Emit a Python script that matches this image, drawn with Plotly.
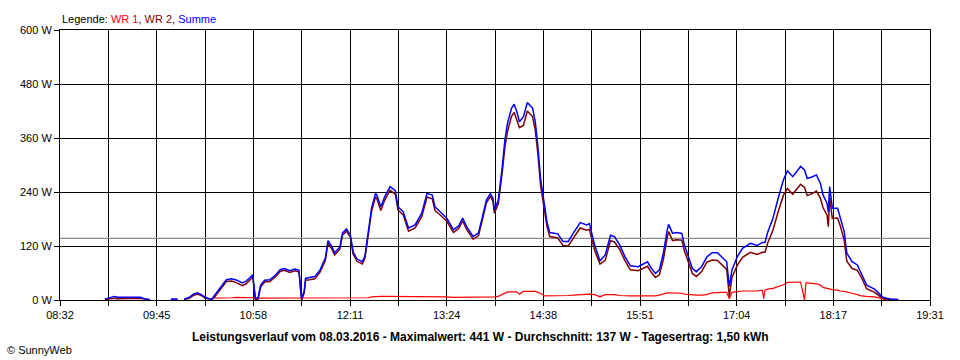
import plotly.graph_objects as go

# ---- data ----
zeit = ["09:06","09:10","09:13","09:16","09:19","09:24","09:28","09:33","09:36","09:40","09:42",
        "09:56","10:01","10:03",
        "10:06","10:10","10:13","10:16","10:19","10:22","10:25","10:27","10:29","10:32","10:35","10:38",
        "10:42","10:46","10:50","10:53","10:56","10:58","11:00","11:02","11:04","11:07","11:11","11:15",
        "11:19","11:22","11:26","11:30","11:33","11:35","11:37","11:38","11:41","11:45","11:49","11:53",
        "11:55","11:58","12:00","12:04","12:06","12:09","12:12","12:14","12:17","12:21","12:23","12:25",
        "12:28","12:31","12:32","12:35","12:38","12:42","12:46","12:48","12:52","12:56","13:01","13:06",
        "13:10","13:14","13:16","13:20","13:25","13:30","13:34","13:37","13:40","13:45","13:49","13:52",
        "13:55","13:58","14:00","14:01","14:04","14:07","14:09","14:11","14:14","14:16","14:18","14:20",
        "14:23","14:26","14:30","14:32","14:34","14:36","14:39","14:41","14:43","14:49","14:53","14:57",
        "15:01","15:06","15:11","15:13","15:17","15:21","15:25","15:29","15:32","15:36","15:40","15:44",
        "15:50","15:54","15:57","16:00","16:03","16:06","16:09","16:12","16:13","16:16","16:19","16:23",
        "16:25","16:28","16:31","16:34","16:38","16:42","16:46","16:50","16:53","16:57","16:59","17:01",
        "17:05","17:09","17:15","17:20","17:24","17:25","17:26","17:28","17:32","17:36","17:40","17:43",
        "17:47","17:50","17:53","17:56","17:57","17:58","18:02","18:05","18:08","18:10","18:13","18:14",
        "18:15","18:17","18:21","18:23","18:26","18:28","18:32","18:36","18:39","18:43","18:49","18:55",
        "18:58","19:01","19:07"]

summe = [2,5,8,6,6,7,6,6,3,1,None,
         2,2,None,
         2,6,13,16,12,6,3,2,10,22,35,45,
         47,44,38,42,50,56,4,5,33,44,45,55,
         68,70,65,69,66,4,20,48,50,52,67,93,
         132,118,105,118,149,158,144,107,91,85,98,141,
         204,237,233,207,230,252,243,207,196,160,167,193,
         237,233,207,196,182,156,165,182,163,141,149,185,
         222,236,226,200,222,296,356,393,426,435,419,396,
         407,439,426,396,341,270,207,171,150,147,130,130,
         149,172,167,170,122,87,100,144,141,122,96,76,
         74,80,85,70,59,67,104,156,168,148,150,148,
         122,96,70,63,74,96,105,105,96,85,30,67,
         96,115,126,121,128,128,128,150,181,226,267,287,
         274,285,297,289,280,270,274,278,259,233,215,195,
         252,204,204,185,152,104,85,78,59,33,24,7,
         4,2,1]

wr2 = [1,3,4,3,3,4,4,4,2,0,None,
       1,1,None,
       1,4,10,13,10,4,2,1,6,18,31,41,
       42,38,32,36,45,51,0,1,29,40,41,51,
       64,66,61,65,62,0,16,44,45,47,62,88,
       126,113,100,113,144,153,139,102,86,80,93,136,
       197,229,225,199,222,244,235,200,189,153,160,185,
       229,225,199,189,175,150,159,176,157,135,143,179,
       216,230,219,193,214,284,340,375,408,417,401,383,
       388,420,407,377,324,255,198,162,141,138,121,120,
       138,160,155,157,110,80,88,132,129,112,87,67,
       65,71,75,61,50,56,90,140,152,132,134,133,
       109,84,59,52,63,84,89,88,79,68,8,50,
       77,95,106,101,106,106,106,126,155,196,233,248,
       235,246,257,250,242,232,237,242,226,205,189,163,
       228,181,182,165,133,86,70,66,50,25,17,4,
       2,0,0]

wr1 = [None,None,None,None,None,None,None,None,None,None,None,
       None,None,None,
       None,None,None,None,None,None,None,None,4,4,4,4,
       5,6,6,6,5,5,4,4,4,4,4,4,
       4,4,4,4,4,4,4,4,5,5,5,5,
       5,5,5,5,5,5,5,5,5,5,5,5,
       7,8,8,8,8,8,8,7,7,7,7,8,
       8,8,8,7,7,6,6,6,6,6,6,6,
       6,6,7,7,8,12,16,18,18,18,18,13,
       19,19,19,19,17,15,9,9,9,9,9,10,
       11,12,12,13,12,7,12,12,12,10,9,9,
       9,9,10,9,9,11,14,16,16,16,16,15,
       13,12,11,11,11,12,16,17,17,17,3,17,
       19,20,20,20,22,3,22,24,26,30,34,39,
       39,39,40,0,38,38,37,36,33,28,26,25,
       24,23,22,20,19,18,15,12,9,8,7,3,
       0,None,None]

durchschnitt = 137
x_labels = ["08:32","09:45","10:58","12:11","13:24","14:38","15:51","17:04","18:17","19:31"]
y_ticks = [0, 120, 240, 360, 480, 600]
titel = ("Leistungsverlauf vom 08.03.2016 - Maximalwert: 441 W - Durchschnitt: 137 W - "
         "Tagesertrag: 1,50 kWh")

# ---- helpers ----
def to_min(s):
    h, m = s.split(":")
    return int(h) * 60 + int(m)

x = [to_min(t) for t in zeit]
x0 = to_min(x_labels[0])
x1 = to_min(x_labels[-1])
n_div = (len(x_labels) - 1) * 2
tickvals = [x0 + i * (x1 - x0) / n_div for i in range(n_div + 1)]
ticktext = [x_labels[i // 2] if i % 2 == 0 else "" for i in range(n_div + 1)]

FONT = "Liberation Sans, Arial, sans-serif"

fig = go.Figure()
fig.add_trace(go.Scatter(x=[x0, x1], y=[durchschnitt, durchschnitt], mode="lines",
                         line=dict(color="#8c8c8c", width=1.2), hoverinfo="skip"))
fig.add_trace(go.Scatter(x=x, y=wr1, mode="lines", name="WR 1", connectgaps=False,
                         line=dict(color="#ff0000", width=1.2)))
fig.add_trace(go.Scatter(x=x, y=wr2, mode="lines", name="WR 2", connectgaps=False,
                         line=dict(color="#800000", width=1.5)))
fig.add_trace(go.Scatter(x=x, y=summe, mode="lines", name="Summe", connectgaps=False,
                         line=dict(color="#0000ff", width=1.5)))

fig.update_layout(
    width=960, height=360,
    margin=dict(l=60, r=30, t=30, b=60),
    paper_bgcolor="white", plot_bgcolor="white",
    showlegend=False,
    font=dict(family=FONT, size=11, color="black"),
    xaxis=dict(range=[x0, x1], tickmode="array", tickvals=tickvals, ticktext=ticktext,
               showgrid=True, gridcolor="black", gridwidth=1,
               ticks="outside", ticklen=5, tickcolor="black", tickwidth=1,
               showline=True, linecolor="black", linewidth=1, mirror=True,
               zeroline=False, tickfont=dict(family=FONT, size=11, color="black")),
    yaxis=dict(range=[0, 600], tickmode="array", tickvals=y_ticks,
               ticktext=[f"{v} W" for v in y_ticks],
               showgrid=True, gridcolor="black", gridwidth=1,
               ticks="outside", ticklen=5, tickcolor="black", tickwidth=1,
               showline=True, linecolor="black", linewidth=1, mirror=True,
               zeroline=False, tickfont=dict(family=FONT, size=11, color="black")),
)

fig.add_annotation(xref="paper", yref="paper", x=0, y=1, xanchor="left", yanchor="bottom",
                   yshift=3, showarrow=False,
                   text=("Legende: <span style='color:#ff0000'>WR 1</span>, "
                         "<span style='color:#800000'>WR 2</span>, "
                         "<span style='color:#0000ff'>Summe</span>"),
                   font=dict(family=FONT, size=11, color="black"))
fig.add_annotation(xref="paper", yref="paper", x=(480 - 60) / 870, y=-37 / 270,
                   xanchor="center", yanchor="middle", showarrow=False,
                   text=f"<b>{titel}</b>", font=dict(family=FONT, size=12, color="black"))
fig.add_annotation(xref="paper", yref="paper", x=-55 / 870, y=-50 / 270,
                   xanchor="left", yanchor="middle", showarrow=False,
                   text="© SunnyWeb", font=dict(family=FONT, size=11, color="black"))

fig.write_html("out.html", config={"displayModeBar": False},
               post_script="document.body.style.margin='0';")
